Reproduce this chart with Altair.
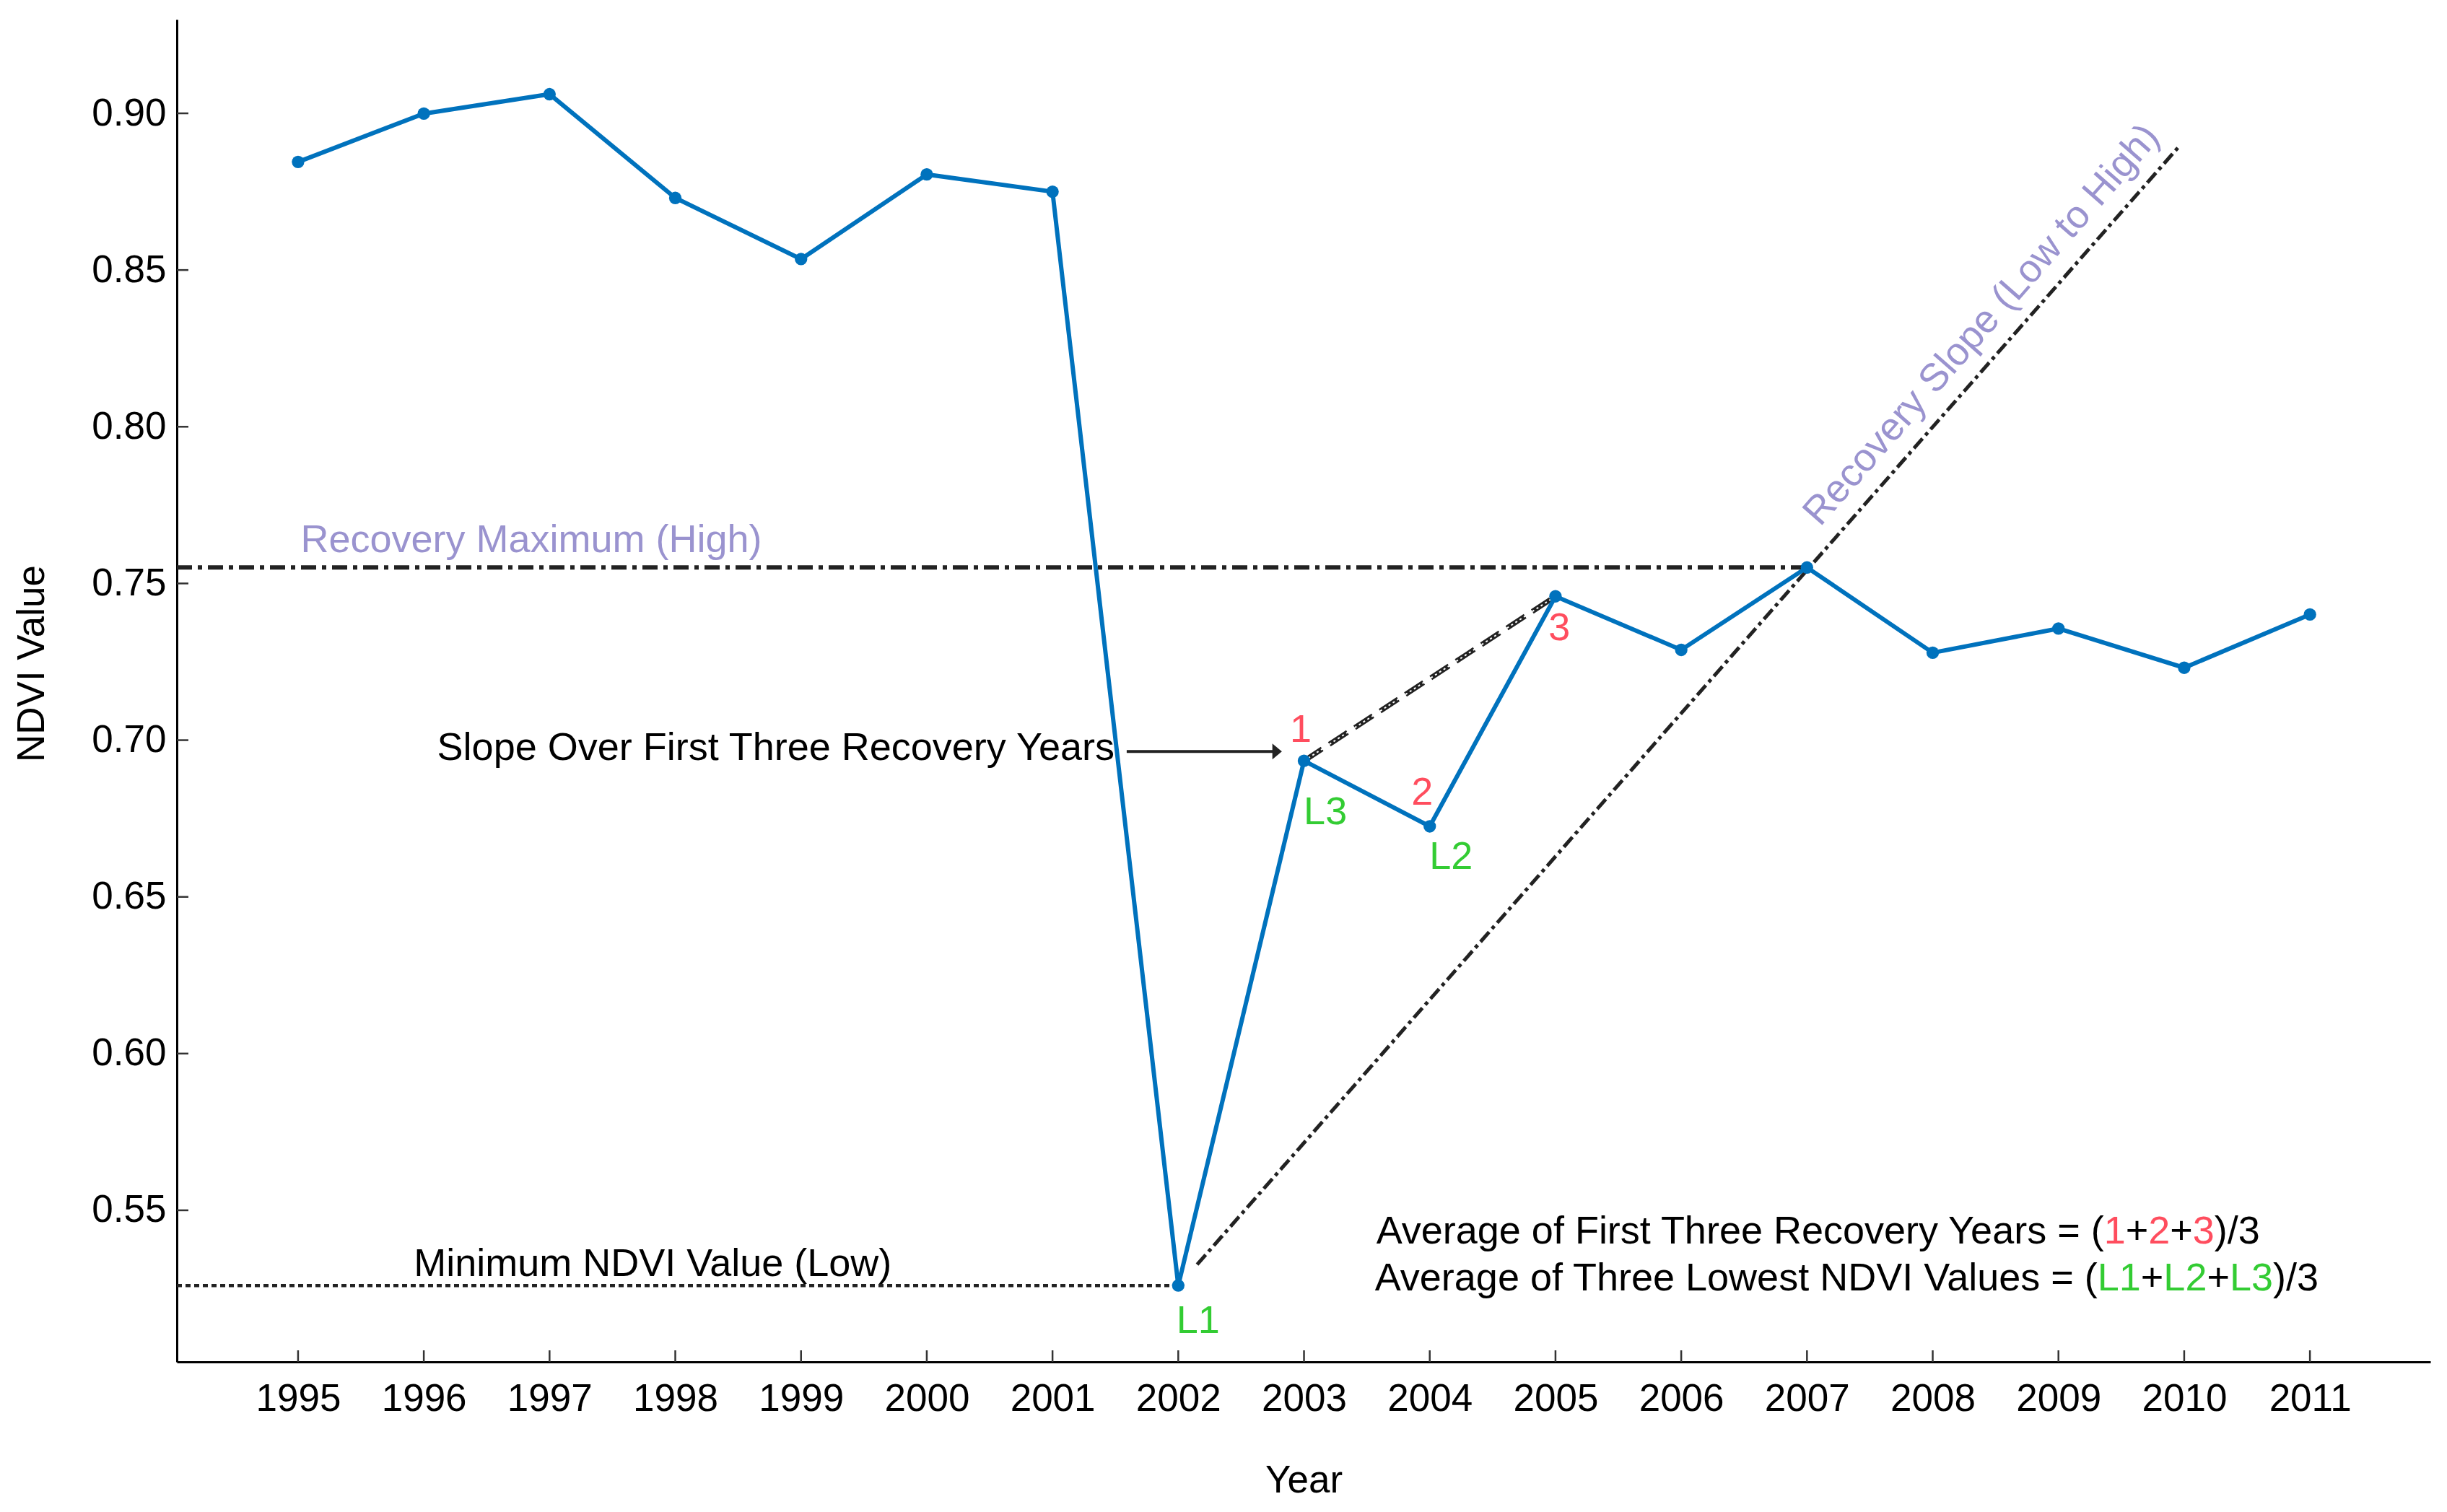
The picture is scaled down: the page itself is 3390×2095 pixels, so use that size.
import altair as alt
import pandas as pd

# ---------------- data ----------------
years = list(range(1995, 2012))
ndvi = [0.8845, 0.8999, 0.9061, 0.8730, 0.8535, 0.8805, 0.8750, 0.5260,
        0.6934, 0.6725, 0.7459, 0.7288, 0.7551, 0.7279, 0.7356, 0.7231, 0.7401]

y_ticks = [0.55, 0.60, 0.65, 0.70, 0.75, 0.80, 0.85, 0.90]

min_line_x = [1994.036, 2002.0]
min_line_y = [0.5260, 0.5260]
max_line_x = [1994.036, 2007.0]
max_line_y = [0.7551, 0.7551]
slope_line_x = [2002.15, 2009.95]
slope_line_y = [0.5327, 0.8890]
three_line_x = [2003.0, 2005.0]
three_line_y = [0.6934, 0.7459]
arrow_x = [2001.59, 2002.78]
arrow_y = [0.6964, 0.6964]
arrow_tip_x = [2002.824]
arrow_tip_y = [0.6964]

# point labels
red_labels = ["1", "2", "3"]
red_x = [2002.974, 2003.94, 2005.03]
red_y = [0.6994, 0.6794, 0.7319]
green_labels = ["L1", "L2", "L3"]
green_x = [2002.158, 2004.17, 2003.17]
green_y = [0.5108, 0.6589, 0.6731]

# ---------------- layout ----------------
XMIN, XMAX = 1994.036, 2011.958
YMIN, YMAX = 0.50163, 0.92994
W, H = 3122, 1860
PX_PER_YEAR = W / (XMAX - XMIN)
FONT = "Liberation Sans"
FS = 54
BLUE = "#0072BD"
RED = "#FF4D5E"
GREEN = "#33CC33"
PURPLE = "#9A93CF"

# Arial / Liberation Sans advance widths (per 1000 em)
AW = {' ': 278, 'A': 667, 'v': 500, 'e': 556, 'r': 333, 'a': 556, 'g': 556, 'o': 556,
      'f': 278, 'F': 611, 'i': 222, 's': 500, 't': 278, 'T': 611, 'h': 556, 'R': 722,
      'c': 500, 'y': 500, 'Y': 667, '=': 584, '(': 333, ')': 333, '1': 556, '2': 556,
      '3': 556, '+': 584, '/': 278, 'L': 556, 'w': 722, 'N': 722, 'D': 722, 'V': 667,
      'I': 278, 'l': 222, 'u': 556, 'n': 556, 'm': 833, 'x': 500, 'M': 833, 'H': 722,
      'p': 556}


def text_w(s, fs=FS):
    return sum(AW.get(c, 556) for c in s) * fs / 1000.0


xs = alt.Scale(domain=[XMIN, XMAX], nice=False, zero=False)
ys = alt.Scale(domain=[YMIN, YMAX], nice=False, zero=False)

xaxis = alt.Axis(values=years, format="d", title="Year", ticks=False, grid=False,
                 labelPadding=25, labelFontSize=53, labelFont=FONT, labelColor="black",
                 labelFlush=False, labelOverlap=False,
                 domainColor="black", domainWidth=3,
                 titleFontSize=53, titleFont=FONT, titleFontWeight="normal",
                 titleColor="black", titleY=180, titleBaseline="alphabetic")
yaxis = alt.Axis(values=y_ticks, format=".2f", title="NDVI Value", ticks=False, grid=False,
                 labelPadding=15, labelFontSize=53, labelFont=FONT, labelColor="black",
                 labelFlush=False, labelOverlap=False,
                 domainColor="black", domainWidth=3,
                 titleFontSize=53, titleFont=FONT, titleFontWeight="normal",
                 titleColor="black", titleX=-185, titleY=892, titleAngle=270,
                 titleAlign="center", titleBaseline="alphabetic")

X = alt.X("x:Q", scale=xs, axis=xaxis)
Y = alt.Y("y:Q", scale=ys, axis=yaxis)


def df(xv, yv, **extra):
    d = {"x": xv, "y": yv}
    d.update(extra)
    return pd.DataFrame(d)


layers = []

# inward tick marks
layers.append(alt.Chart(pd.DataFrame({"x": years})).mark_rule(color="#333333", strokeWidth=2.5)
              .encode(x=X, y=alt.value(H), y2=alt.value(H - 16)))
layers.append(alt.Chart(pd.DataFrame({"y": y_ticks})).mark_rule(color="#333333", strokeWidth=2.5)
              .encode(y=Y, x=alt.value(0), x2=alt.value(16)))

# reference lines
layers.append(alt.Chart(df(min_line_x, min_line_y)).mark_line(
    color="#222222", strokeWidth=4.5, strokeDash=[7, 5]).encode(x=X, y=Y))
layers.append(alt.Chart(df(max_line_x, max_line_y)).mark_line(
    color="#222222", strokeWidth=6, strokeDash=[21, 8, 6, 8]).encode(x=X, y=Y))
layers.append(alt.Chart(df(slope_line_x, slope_line_y)).mark_line(
    color="#222222", strokeWidth=5, strokeDash=[18, 6, 5, 6]).encode(x=X, y=Y))
layers.append(alt.Chart(df(three_line_x, three_line_y)).mark_line(
    color="#222222", strokeWidth=7, strokeDash=[30, 12]).encode(x=X, y=Y))
layers.append(alt.Chart(df(three_line_x, three_line_y)).mark_line(
    color="white", strokeWidth=2, strokeDash=[3, 4]).encode(x=X, y=Y))

# NDVI series
series = df(years, ndvi)
layers.append(alt.Chart(series).mark_line(color=BLUE, strokeWidth=6).encode(x=X, y=Y))
layers.append(alt.Chart(series).mark_point(color=BLUE, filled=True, opacity=1, size=300,
                                           shape="circle").encode(x=X, y=Y))

# arrow
layers.append(alt.Chart(df(arrow_x, arrow_y)).mark_line(color="#222222", strokeWidth=4)
              .encode(x=X, y=Y))
layers.append(alt.Chart(df(arrow_tip_x, arrow_tip_y)).mark_point(
    shape="M-1.2,-1L0,0L-1.2,1Z", filled=True, opacity=1, size=484, color="#222222")
    .encode(x=X, y=Y))

# point labels
layers.append(alt.Chart(df(red_x, red_y, t=red_labels)).mark_text(
    font=FONT, fontSize=FS, color=RED, align="center", baseline="alphabetic")
    .encode(x=X, y=Y, text="t:N"))
layers.append(alt.Chart(df(green_x, green_y, t=green_labels)).mark_text(
    font=FONT, fontSize=FS, color=GREEN, align="center", baseline="alphabetic")
    .encode(x=X, y=Y, text="t:N"))

# annotations
layers.append(alt.Chart(df([1995.02], [0.7600], t=["Recovery Maximum (High)"])).mark_text(
    font=FONT, fontSize=FS, color=PURPLE, align="left", baseline="alphabetic")
    .encode(x=X, y=Y, text="t:N"))
layers.append(alt.Chart(df([2008.46], [0.8300], t=["Recovery Slope (Low to High)"])).mark_text(
    font=FONT, fontSize=FS, color=PURPLE, align="center", baseline="alphabetic", angle=311.2)
    .encode(x=X, y=Y, text="t:N"))
layers.append(alt.Chart(df([2001.493], [0.6936], t=["Slope Over First Three Recovery Years"]))
              .mark_text(font=FONT, fontSize=FS, color="black", align="right", baseline="alphabetic")
              .encode(x=X, y=Y, text="t:N"))
layers.append(alt.Chart(df([1995.92], [0.5290], t=["Minimum NDVI Value (Low)"]))
              .mark_text(font=FONT, fontSize=FS, color="black", align="left", baseline="alphabetic")
              .encode(x=X, y=Y, text="t:N"))

# formula lines with coloured parts
formula_left = 2003.53
formula_rows = [
    (0.5394, "Average of First Three Recovery Years = (",
     [("1", RED), ("+", "black"), ("2", RED), ("+", "black"), ("3", RED), (")/3", "black")]),
    (0.5244, "Average of Three Lowest NDVI Values = (",
     [("L1", GREEN), ("+", "black"), ("L2", GREEN), ("+", "black"), ("L3", GREEN), (")/3", "black")]),
]
pre_x, pre_y, pre_t = [], [], []
seg_x, seg_y, seg_t, seg_c = [], [], [], []
for yv, prefix, segs in formula_rows:
    p = formula_left + text_w(prefix) / PX_PER_YEAR
    pre_x.append(p)
    pre_y.append(yv)
    pre_t.append(prefix)
    off = 0.0
    for s, c in segs:
        seg_x.append(p + off / PX_PER_YEAR)
        seg_y.append(yv)
        seg_t.append(s)
        seg_c.append(c)
        off += text_w(s)

layers.append(alt.Chart(df(pre_x, pre_y, t=pre_t)).mark_text(
    font=FONT, fontSize=FS, color="black", align="right", baseline="alphabetic")
    .encode(x=X, y=Y, text="t:N"))
layers.append(alt.Chart(df(seg_x, seg_y, t=seg_t, c=seg_c)).mark_text(
    font=FONT, fontSize=FS, align="left", baseline="alphabetic")
    .encode(x=X, y=Y, text="t:N", color=alt.Color("c:N", scale=None)))

chart = alt.layer(*layers).properties(
    width=W, height=H,
    autosize=alt.AutoSizeParams(type="none"),
    padding={"left": 237, "top": 19, "right": 10, "bottom": 198},
    background="white",
).configure(font=FONT).configure_view(stroke=None)

chart.save("out.html", embed_options={"renderer": "svg", "actions": False})
